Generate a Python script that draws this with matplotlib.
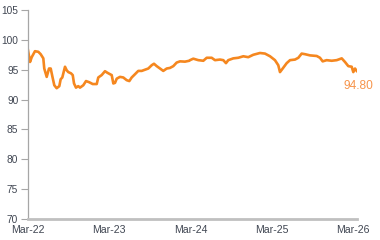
import matplotlib
matplotlib.use("Agg")
import matplotlib.pyplot as plt

# months since Mar-22
months = [0, 0.3, 0.55, 1.03, 1.52, 1.87, 2.26, 2.4, 2.76, 3.1, 3.35, 3.59, 3.88, 4.23,
          4.62, 4.82, 5.06, 5.46, 5.71, 5.95, 6.34, 6.6, 6.79, 7.08, 7.42, 7.67, 8.16,
          8.56, 9.04, 9.55, 10.14, 10.37, 10.87, 11.36, 11.7, 12.1, 12.35, 12.59, 12.84,
          13.09, 13.57, 14.06, 14.56, 14.95, 15.3, 15.79, 16.27, 16.78, 17.26, 17.75,
          18.25, 18.59, 18.99, 19.48, 19.96, 20.47, 20.95, 21.44, 21.94, 22.43, 23.16,
          23.8, 23.9, 24.39, 25.13, 25.87, 26.37, 27.1, 27.59, 28.33, 28.82, 29.21, 29.55,
          30.29, 31.03, 31.77, 32.5, 33.24, 34.23, 34.97, 35.71, 36.44, 36.93, 37.18,
          37.58, 38.17, 38.66, 39.4, 39.89, 40.38, 40.87, 41.61, 42.6, 43.08, 43.48,
          44.07, 44.81, 45.55, 46.29, 46.77, 47.26, 47.76, 48.0, 48.25, 48.5]
values = [98.25, 96.3, 97.1, 98.1, 98.0, 97.6, 96.9, 95.2, 93.8, 95.2, 95.2, 93.9, 92.4, 91.9,
          92.25, 93.4, 93.7, 95.5, 94.9, 94.6, 94.4, 94.1, 92.7, 92.0, 92.25, 92.0, 92.4,
          93.1, 92.9, 92.6, 92.6, 93.7, 94.1, 94.75, 94.5, 94.25, 94.1, 92.7, 92.8,
          93.5, 93.8, 93.7, 93.25, 93.1, 93.7, 94.25, 94.8, 94.8, 95.0, 95.2,
          95.75, 96.0, 95.6, 95.2, 94.8, 95.2, 95.3, 95.6, 96.2, 96.4, 96.35,
          96.5, 96.6, 96.85, 96.6, 96.5, 97.0, 97.0, 96.6, 96.7, 96.6, 96.1, 96.6,
          96.9, 97.0, 97.25, 97.1, 97.5, 97.8, 97.7, 97.25, 96.6, 95.75, 94.6,
          95.2, 96.1, 96.6, 96.7, 97.0, 97.7, 97.6, 97.4, 97.3, 97.0, 96.4,
          96.6, 96.5, 96.6, 96.9, 96.3, 95.6, 95.5, 94.6, 95.2, 94.8]
tick_months = [0, 12, 24, 36, 48]
tick_labels = ["Mar-22", "Mar-23", "Mar-24", "Mar-25", "Mar-26"]
y_ticks = [70, 75, 80, 85, 90, 95, 100, 105]
last_label = "94.80"

plt.rcParams['font.family'] = ['Liberation Sans', 'DejaVu Sans']
fig = plt.figure(figsize=(3.8, 2.4), dpi=100)
ax = fig.add_axes([28/380, 1-219/240, (356.7-28)/380, (219-10)/240])

line_color = '#F5871F'
ax.plot(months, values, color=line_color, lw=1.9, solid_joinstyle='round')
ax.annotate(last_label, (months[-1], values[-1]), xytext=(2, -15), textcoords='offset pixels',
            ha='center', va='center', color='#F7944A', fontsize=8.6)

ax.set_xlim(0, 48.5)
ax.set_ylim(70, 105)
ax.set_xticks(tick_months)
ax.set_xticklabels(tick_labels)
ax.set_yticks(y_ticks)
ax.set_yticklabels([str(v) for v in y_ticks])

for s in ['top', 'right']:
    ax.spines[s].set_visible(False)
ax.spines['left'].set_color('#a6a6a6')
ax.spines['left'].set_linewidth(0.9)
ax.spines['bottom'].set_color('#c0c0c0')
ax.spines['bottom'].set_linewidth(2.0)
ax.tick_params(axis='y', length=5, width=0.8, color='#a6a6a6', labelsize=7.3,
               labelcolor='#404652', pad=2)
ax.tick_params(axis='x', length=0, labelsize=7.6, labelcolor='#404652', pad=4)

fig.savefig('out.png', dpi=100)
